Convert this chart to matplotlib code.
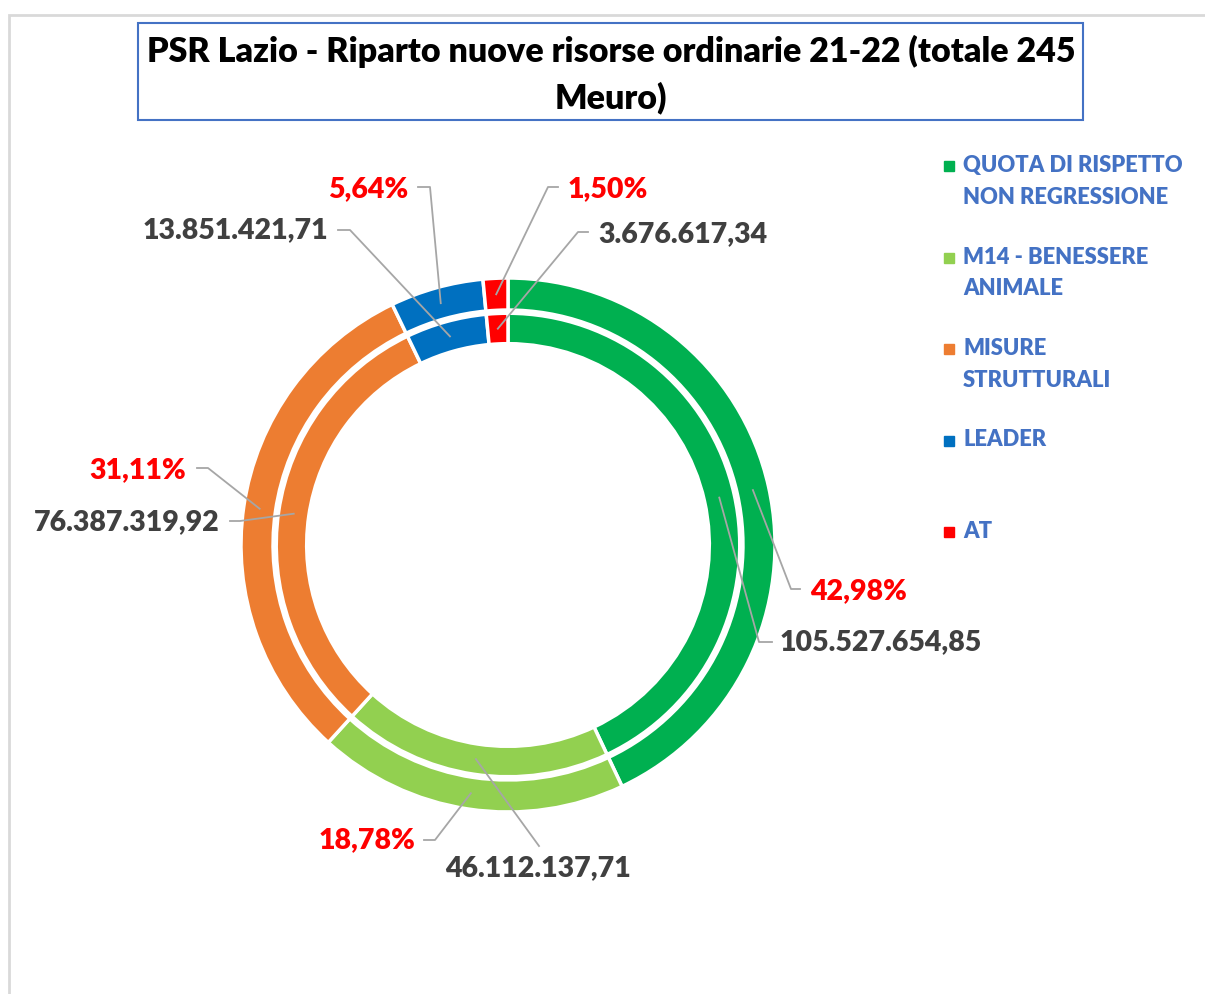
import numpy as np
import matplotlib.pyplot as plt
from matplotlib.patches import Rectangle

# data
categories = ["QUOTA DI RISPETTO\nNON REGRESSIONE", "M14 - BENESSERE\nANIMALE",
              "MISURE\nSTRUTTURALI", "LEADER", "AT"]
values = [105527654.85, 46112137.71, 76387319.92, 13851421.71, 3676617.34]
colors = ["#00B050", "#92D050", "#ED7D31", "#0070C0", "#FF0000"]
title = "PSR Lazio - Riparto nuove risorse ordinarie 21-22 (totale 245\nMeuro)"

W, H = 1205, 994
CX, CY, R = 508, 545, 267   # pie centre / outer radius in pixels
FONT = "Lato"
WEIGHT = 'heavy'

plt.rcParams['font.family'] = [FONT, 'DejaVu Sans']

fig = plt.figure(figsize=(W / 100, H / 100), dpi=100)
ax = fig.add_axes([0, 0, 1, 1])


def fx(px):
    return px / W


def fy(py):
    return 1 - py / H


def d(px, py):
    # pixel -> data coords of the pie axes
    return (px - CX) / R, (CY - py) / R


# the two rings, same data
ax.pie(values, radius=1.0, startangle=90, counterclock=False, colors=colors,
       wedgeprops=dict(width=0.12, edgecolor='white', linewidth=2.5))
ax.pie(values, radius=0.868, startangle=90, counterclock=False, colors=colors,
       wedgeprops=dict(width=0.114, edgecolor='white', linewidth=2.5))
ax.set_xlim(-CX / R, (W - CX) / R)
ax.set_ylim(-(H - CY) / R, CY / R)
ax.set_aspect('auto')
ax.axis('off')

total = sum(values)


def it_num(v):
    s = f"{v:,.2f}"
    return s.replace(',', 'X').replace('.', ',').replace('X', '.')


# label placement (pixels): text xy, ha, knee, stub end
pct_layout = [
    ((810, 591), 'left', (791, 589), (800, 589)),
    ((415, 840), 'right', (435, 840), (424, 840)),
    ((186, 470), 'right', (208, 468), (197, 468)),
    ((408, 189), 'right', (430, 187), (418, 187)),
    ((568, 189), 'left', (548, 187), (558, 187)),
]
val_layout = [
    ((780, 642), 'left', (759, 642), (772, 642)),
    ((538, 868), 'center', (539, 846), (539, 846)),
    ((220, 522), 'right', (240, 521), (230, 521)),
    ((328, 230), 'right', (350, 230), (338, 230)),
    ((598, 234), 'left', (578, 232), (588, 232)),
]

cum = 0
for i, v in enumerate(values):
    theta = np.deg2rad(90 - 360 * (cum + v / 2) / total)
    cum += v
    for rmid, layout, txt, col, fs in [
            (0.94, pct_layout[i], f"{v / total * 100:.2f}%".replace('.', ','), '#FF0000', 20.5),
            (0.811, val_layout[i], it_num(v), '#404040', 20.5)]:
        (tx, ty), ha, knee, end = layout
        ax_, ay_ = rmid * np.cos(theta), rmid * np.sin(theta)
        k = d(*knee)
        e = d(*end)
        ax.plot([ax_, k[0], e[0]], [ay_, k[1], e[1]], color='#A6A6A6', lw=1.3, zorder=3)
        fig.text(fx(tx), fy(ty), txt, ha=ha, va='center', fontsize=fs,
                 fontweight=WEIGHT, color=col)

# title box
fig.patches.append(Rectangle((fx(138), fy(120)), fx(1083) - fx(138), fy(23) - fy(120),
                             transform=fig.transFigure, fill=False,
                             edgecolor='#4472C4', lw=1.5))
fig.text(fx(611), fy(75), title, ha='center', va='center', fontsize=24.5,
         fontweight=WEIGHT, color='black', linespacing=1.5)

# outer chart frame
fig.patches.append(Rectangle((fx(9), fy(1010)), fx(1220) - fx(9), fy(15) - fy(1010),
                             transform=fig.transFigure, fill=False,
                             edgecolor='#D9D9D9', lw=2))

# legend
for i, (lab, c) in enumerate(zip(categories, colors)):
    top = 155 + i * 91.5
    fig.patches.append(Rectangle((fx(944), fy(top + 16)), fx(10), 10 / H,
                                 transform=fig.transFigure, color=c))
    fig.text(fx(963), fy(top), lab, ha='left', va='top', fontsize=15.8,
             fontweight=WEIGHT, color='#4472C4', linespacing=1.62)

fig.savefig("out.png", dpi=100)
